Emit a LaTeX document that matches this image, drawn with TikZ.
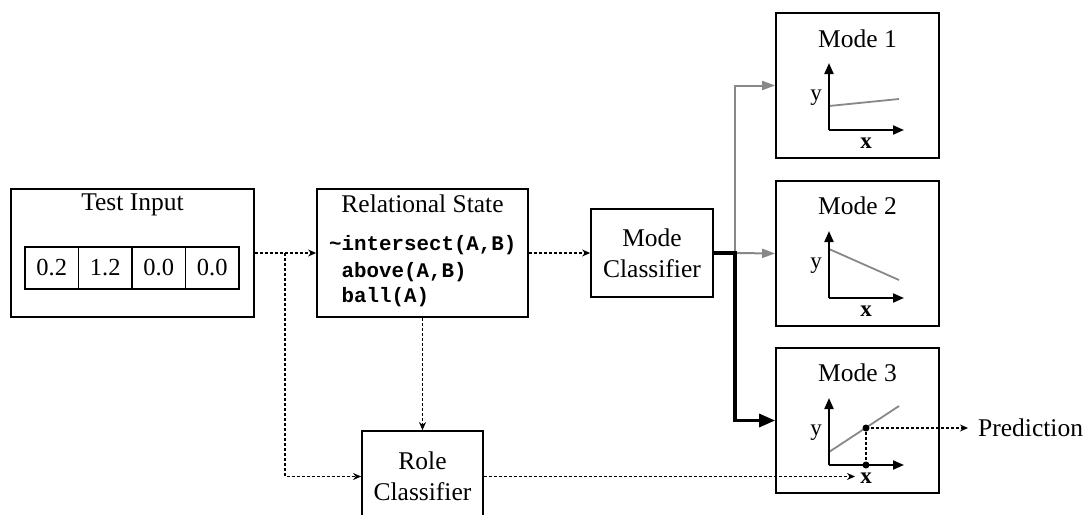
\documentclass[tikz,border=0pt]{standalone}
\usepackage{fontspec}
\setmainfont{Liberation Serif}
\setmonofont{Liberation Mono}
\usetikzlibrary{arrows.meta}
\definecolor{linegray}{HTML}{888888}
\begin{document}
\begin{tikzpicture}[x=1pt,y=-1pt,
  box/.style={draw,line width=1.8pt,inner sep=0pt},
  cell/.style={draw,line width=1.4pt,minimum width=53.5pt,minimum height=42pt,inner sep=0pt,
    font=\fontsize{24.5}{28}\selectfont},
  lbl/.style={inner sep=0pt,font=\fontsize{25.5}{31}\selectfont},
  code/.style={inner sep=0pt,anchor=west,font=\fontsize{20.8}{24}\selectfont\ttfamily\bfseries},
  axlbl/.style={inner sep=0pt,font=\fontsize{23}{25}\selectfont},
  flow/.style={line width=1.2pt,dash pattern=on 3pt off 2pt,-{Stealth[length=8pt,width=7pt]}},
  modearrow/.style={line width=2pt,linegray,-{Triangle[length=13pt,width=9pt]}},
  chosen/.style={line width=3.2pt,-{Triangle[length=16pt,width=13pt]}},
  axis/.style={line width=2pt,-{Triangle[length=11pt,width=9pt]}},
  fitline/.style={line width=1.8pt,linegray},
  dot/.style={circle,fill,inner sep=0pt,minimum size=7pt}
]
\clip (0,0) rectangle (1091,514);

% input block
\node[box,minimum width=243pt,minimum height=128pt] (test) at (132.5,253) {};
\node[lbl] (testtitle) at (132.5,205) {Test Input};
\node[cell] (c1) at (51.75,268) {0.2};
\node[cell] (c2) at (105.25,268) {1.2};
\node[cell] (c3) at (158.75,268) {0.0};
\node[cell] (c4) at (212.25,268) {0.0};

% relational state
\node[box,minimum width=211pt,minimum height=128pt] (rel) at (422.5,253) {};
\node[lbl] (reltitle) at (422.5,204) {Relational State};
\node[code] (r1) at (329,245) {\string~intersect(A,B)};
\node[code] (r2) at (341.5,272) {above(A,B)};
\node[code] (r3) at (341.5,297) {ball(A)};

% classifiers
\node[box,lbl,minimum width=122pt,minimum height=88pt,align=center] (mc) at (652,253) {Mode\\Classifier};
\node[box,lbl,minimum width=121pt,minimum height=91pt,align=center] (role) at (422.5,476.5) {Role\\Classifier};

% mode boxes
\node[box,minimum width=163pt,minimum height=145pt] (m1) at (857.5,85.5) {};
\node[box,minimum width=163pt,minimum height=145pt] (m2) at (857.5,253.5) {};
\node[box,minimum width=163pt,minimum height=145pt] (m3) at (857.5,420.5) {};
\node[lbl] (m1t) at (857.5,39) {Mode 1};
\node[lbl] (m2t) at (857.5,206) {Mode 2};
\node[lbl] (m3t) at (857.5,373) {Mode 3};

% mode 1 plot
\draw[fitline] (829,106) -- (899,99);
\draw[axis] (829,130) -- (829,63);
\draw[axis] (829,130) -- (904,130);
\node[axlbl] (m1y) at (816,98) {y};
\node[axlbl] (m1x) at (866,143) {\textbf{x}};

% mode 2 plot
\draw[fitline] (829,249) -- (899,280);
\draw[axis] (829,298) -- (829,231);
\draw[axis] (829,298) -- (904,298);
\node[axlbl] (m2y) at (816,266) {y};
\node[axlbl] (m2x) at (866,311) {\textbf{x}};

% mode 3 plot with the read-off point
\draw[fitline] (829,452) -- (899,406);
\draw[axis] (829,465) -- (829,398);
\draw[axis] (829,465) -- (904,465);
\node[axlbl] (m3y) at (816,433) {y};
\node[axlbl] (m3x) at (866,478) {\textbf{x}};
\node[dot] (py) at (866,428) {};
\node[dot] (px) at (866,465) {};
\draw[line width=1.2pt,dash pattern=on 3pt off 2pt] (py) -- (px);
\node[lbl,anchor=west,inner xsep=10pt] (pred) at (968,428) {Prediction};
\draw[flow] (py.center) -- (pred.west);

% data flow
\coordinate (split) at (285,253);
\draw[flow] (test.east) -- (rel.west);
\draw[flow] (split) |- (role.west);
\draw[flow] (rel.east) -- (mc.west);
\draw[flow] (rel.south) -- (role.north);
\coordinate (rolein) at (855,476.5);
\draw[flow] (role.east) -- (rolein);

% mode selection
\coordinate (junc) at (735,253);
\draw[modearrow] (junc) |- (m1.west);
\draw[modearrow] (junc) -- (m2.west);
\draw[chosen] (mc.east) -- (junc) |- (m3.west);
\end{tikzpicture}
\end{document}
